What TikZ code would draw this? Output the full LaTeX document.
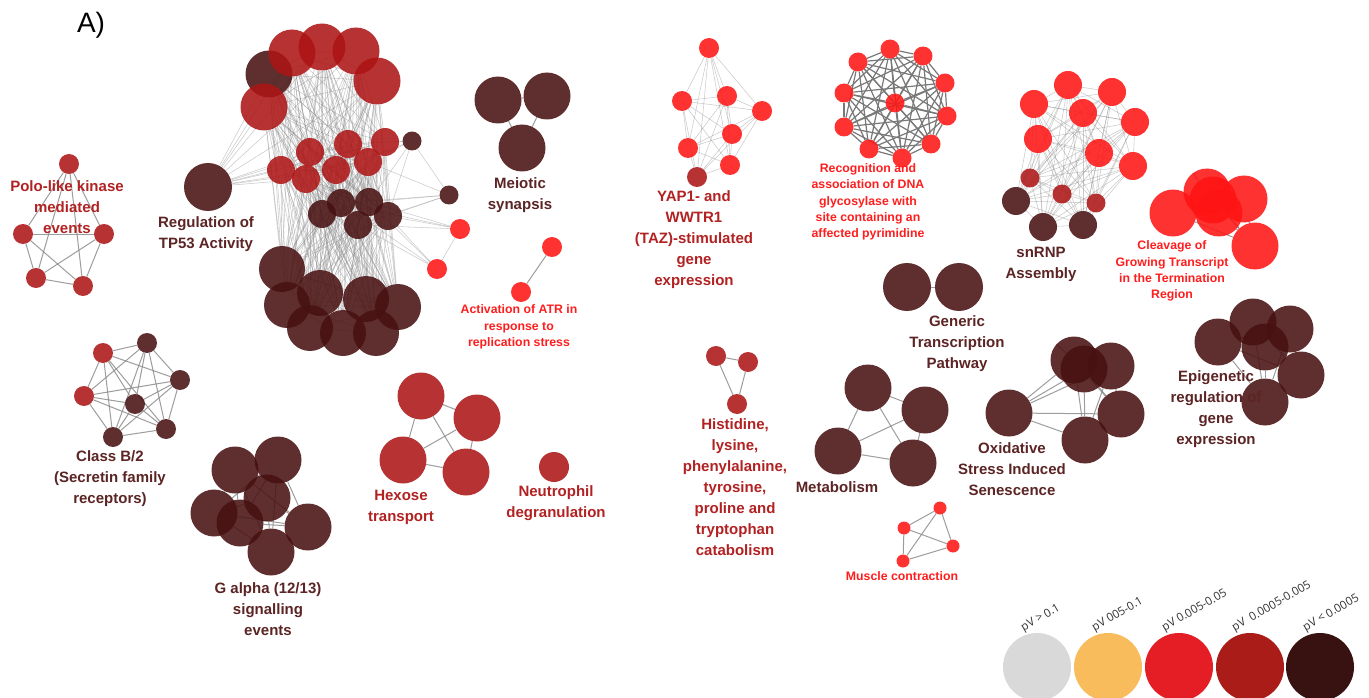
\documentclass[tikz,border=0pt]{standalone}
\usepackage{fontspec}
\newfontfamily\lblfont{Liberation Sans}
\newfontfamily\legfont{Open Sans}
\usepackage{tikz}
\usetikzlibrary{backgrounds}
\definecolor{ndark}{RGB}{72,17,17}
\definecolor{nmid}{RGB}{173,20,20}
\definecolor{nbright}{RGB}{255,20,20}
\definecolor{tdark}{RGB}{92,36,36}
\definecolor{tmid}{RGB}{178,34,34}
\definecolor{tbright}{RGB}{255,30,30}
\definecolor{egray}{RGB}{140,140,140}
\definecolor{egraydk}{RGB}{120,120,120}
\definecolor{legA}{RGB}{217,217,217}
\definecolor{legB}{RGB}{248,188,92}
\definecolor{legC}{RGB}{228,30,36}
\definecolor{legD}{RGB}{170,28,24}
\definecolor{legE}{RGB}{56,18,16}
\newcommand\meshall[3][ln]{\foreach \i in {1,...,#3}{\foreach \j in {\i,...,#3}{\ifnum\i<\j \draw[#1] (#2\i) -- (#2\j);\fi}}}

\begin{document}
\begin{tikzpicture}[x=1pt,y=-1pt,
  nd/.style={circle,inner sep=0pt,draw=none,fill opacity=0.87},
  dk/.style={nd,fill=ndark,minimum size=#1},
  dk/.default=47pt,
  md/.style={nd,fill=nmid,minimum size=#1},
  md/.default=20pt,
  br/.style={nd,fill=nbright,minimum size=#1},
  br/.default=20pt,
  ln/.style={draw=egray,line width=1pt,opacity=0.85},
  lnt/.style={draw=egray,line width=0.55pt,opacity=0.45},
  lnd/.style={draw=egraydk,line width=1.2pt},
  lbl/.style={font=\lblfont\bfseries\fontsize{15}{21}\selectfont,align=center,inner sep=0pt},
  sml/.style={font=\lblfont\bfseries\fontsize{12.3}{16.3}\selectfont,align=center,inner sep=0pt},
  lgd/.style={circle,inner sep=0pt,minimum size=68pt},
  leg/.style={font=\legfont\fontsize{11.5}{13}\selectfont,text=black!80,inner sep=0pt,rotate=30,anchor=south west}
]
\useasboundingbox (0,0) rectangle (1369,698);
\clip (0,0) rectangle (1369,698);

\node[font=\lblfont\fontsize{28}{30}\selectfont,inner sep=0pt] (tag) at (91,25) {A)};

\node[md] (p1) at (69,164) {};
\node[md] (p2) at (23,234) {};
\node[md] (p3) at (104,234) {};
\node[md] (p4) at (36,278) {};
\node[md] (p5) at (83,286) {};

\node[dk=48pt] (tp) at (208,187) {};
\node[dk] (t1) at (269,74) {};
\node[md=47pt] (t2) at (292,53) {};
\node[md=47pt] (t3) at (322,47) {};
\node[md=47pt] (t4) at (356,51) {};
\node[md=47pt] (t5) at (377,81) {};
\node[md=47pt] (t6) at (264,107) {};
\node[md=28pt] (t7) at (310,152) {};
\node[md=28pt] (t8) at (348,144) {};
\node[md=28pt] (t9) at (385,142) {};
\node[md=28pt] (t10) at (281,170) {};
\node[md=28pt] (t11) at (306,179) {};
\node[md=28pt] (t12) at (336,170) {};
\node[md=28pt] (t13) at (368,162) {};
\node[dk=28pt] (t14) at (322,214) {};
\node[dk=28pt] (t15) at (341,203) {};
\node[dk=28pt] (t16) at (369,202) {};
\node[dk=28pt] (t17) at (388,216) {};
\node[dk=28pt] (t18) at (358,225) {};
\node[dk=46pt] (t19) at (282,269) {};
\node[dk=46pt] (t20) at (287,305) {};
\node[dk=46pt] (t21) at (320,293) {};
\node[dk=46pt] (t22) at (366,299) {};
\node[dk=46pt] (t23) at (398,307) {};
\node[dk=46pt] (t24) at (310,328) {};
\node[dk=46pt] (t25) at (343,333) {};
\node[dk=46pt] (t26) at (376,333) {};
\node[dk=19pt] (t27) at (412,141) {};
\node[dk=19pt] (t28) at (449,195) {};
\node[br] (t29) at (460,229) {};
\node[br] (t30) at (437,269) {};

\node[dk] (e1) at (498,100) {};
\node[dk] (e2) at (547,96) {};
\node[dk] (e3) at (522,148) {};

\node[br] (a1) at (552,247) {};
\node[br] (a2) at (521,292) {};

\node[br] (y1) at (709,48) {};
\node[br] (y2) at (682,101) {};
\node[br] (y3) at (727,96) {};
\node[br] (y4) at (762,111) {};
\node[br] (y5) at (732,134) {};
\node[br] (y6) at (688,148) {};
\node[br] (y7) at (730,165) {};
\node[md] (y8) at (697,177) {};

\node[br=19pt] (g1) at (890,49) {};
\node[br=19pt] (g2) at (923,56) {};
\node[br=19pt] (g3) at (945,83) {};
\node[br=19pt] (g4) at (947,116) {};
\node[br=19pt] (g5) at (931,144) {};
\node[br=19pt] (g6) at (902,158) {};
\node[br=19pt] (g7) at (869,149) {};
\node[br=19pt] (g8) at (844,127) {};
\node[br=19pt] (g9) at (844,93) {};
\node[br=19pt] (g10) at (858,62) {};
\node[br=19pt] (g11) at (895,103) {};

\node[br=28pt] (n1) at (1034,104) {};
\node[br=28pt] (n2) at (1068,85) {};
\node[br=28pt] (n3) at (1112,92) {};
\node[br=28pt] (n4) at (1135,122) {};
\node[br=28pt] (n5) at (1133,166) {};
\node[br=28pt] (n6) at (1099,153) {};
\node[br=28pt] (n7) at (1083,113) {};
\node[br=28pt] (n8) at (1038,139) {};
\node[md=19pt] (n9) at (1030,178) {};
\node[md=19pt] (n10) at (1062,194) {};
\node[md=19pt] (n11) at (1096,203) {};
\node[dk=28pt] (n12) at (1016,201) {};
\node[dk=28pt] (n13) at (1043,227) {};
\node[dk=28pt] (n14) at (1083,225) {};

\node[br=47pt] (c1) at (1173,213) {};
\node[br=47pt] (c2) at (1207,192) {};
\node[br=47pt] (c3) at (1244,199) {};
\node[br=47pt] (c4) at (1213,200) {};
\node[br=47pt] (c5) at (1219,213) {};
\node[br=47pt] (c6) at (1255,246) {};

\node[dk=48pt] (q1) at (907,287) {};
\node[dk=48pt] (q2) at (959,287) {};

\node[dk] (v1) at (1218,342) {};
\node[dk] (v2) at (1253,322) {};
\node[dk] (v3) at (1290,329) {};
\node[dk] (v4) at (1265,347) {};
\node[dk] (v5) at (1301,375) {};
\node[dk] (v6) at (1265,402) {};

\node[dk] (o1) at (1009,413) {};
\node[dk] (o2) at (1074,360) {};
\node[dk] (o3) at (1084,369) {};
\node[dk] (o4) at (1111,366) {};
\node[dk] (o5) at (1121,414) {};
\node[dk] (o6) at (1085,440) {};

\node[dk] (k1) at (868,388) {};
\node[dk] (k2) at (925,410) {};
\node[dk] (k3) at (838,451) {};
\node[dk] (k4) at (913,463) {};

\node[br=13pt] (u1) at (940,508) {};
\node[br=13pt] (u2) at (904,528) {};
\node[br=13pt] (u3) at (953,546) {};
\node[br=13pt] (u4) at (903,561) {};

\node[md] (h1) at (716,356) {};
\node[md] (h2) at (748,362) {};
\node[md] (h3) at (737,404) {};

\node[md] (w1) at (103,353) {};
\node[dk=20pt] (w2) at (147,343) {};
\node[dk=20pt] (w3) at (180,380) {};
\node[dk=20pt] (w4) at (135,404) {};
\node[md] (w5) at (84,396) {};
\node[dk=20pt] (w6) at (166,429) {};
\node[dk=20pt] (w7) at (113,437) {};

\node[dk] (f1) at (235,470) {};
\node[dk] (f2) at (278,460) {};
\node[dk] (f3) at (267,498) {};
\node[dk] (f4) at (214,513) {};
\node[dk] (f5) at (240,523) {};
\node[dk] (f6) at (308,527) {};
\node[dk] (f7) at (271,552) {};

\node[md=47pt] (x1) at (421,396) {};
\node[md=47pt] (x2) at (477,418) {};
\node[md=47pt] (x3) at (403,460) {};
\node[md=47pt] (x4) at (466,472) {};

\node[md=30pt] (z1) at (554,467) {};

\begin{scope}[on background layer]
\fill[white] (0,0) rectangle (1369,698);
\meshall{p}{5}
\meshall[lnt]{t}{26}
\foreach \j in {1,...,13} \draw[lnt] (tp) -- (t\j);
\foreach \a/\b in {27/8,27/9,27/12,27/13,27/16,27/17,27/28,28/13,28/15,28/16,28/17,28/18,
  29/15,29/16,29/17,29/18,29/30,30/15,30/16,30/17,30/18} \draw[lnt] (t\a) -- (t\b);
\meshall{e}{3}
\draw[ln] (a1) -- (a2);
\meshall[lnt]{y}{8}
\meshall[lnd]{g}{11}
\meshall[lnt]{n}{14}
\meshall{c}{6}
\draw[ln] (q1) -- (q2);
\meshall{v}{6}
\meshall{o}{6}
\meshall{k}{4}
\meshall{u}{4}
\meshall{h}{3}
\meshall{w}{7}
\meshall{f}{7}
\meshall{x}{4}
\end{scope}

\node[lbl,tmid] (lpolo) at (67,207) {Polo-like kinase\\mediated\\events};
\node[lbl,tdark] (ltp) at (206,234) {Regulation of\\TP53 Activity};
\node[lbl,tdark] (lmei) at (520,195) {Meiotic\\synapsis};
\node[sml,tbright] (latr) at (519,327) {Activation of ATR in\\response to\\replication stress};
\node[lbl,tmid] (lyap) at (694,240) {YAP1- and\\WWTR1\\(TAZ)-stimulated\\gene\\expression};
\node[sml,tbright] (lrec) at (868,202) {Recognition and\\association of DNA\\glycosylase with\\site containing an\\affected pyrimidine};
\node[lbl,tdark] (lsnr) at (1041,264) {snRNP\\Assembly};
\node[sml,tbright] (lclv) at (1172,271) {Cleavage of\\Growing Transcript\\in the Termination\\Region};
\node[lbl,tdark] (lgen) at (957,344) {Generic\\Transcription\\Pathway};
\node[lbl,tdark] (lepi) at (1216,409) {Epigenetic\\regulation of\\gene\\expression};
\node[lbl,tdark] (loxi) at (1012,469) {Oxidative\\Stress Induced\\Senescence};
\node[lbl,tdark] (lmet) at (837,487) {Metabolism};
\node[sml,tbright] (lmus) at (902,576) {Muscle contraction};
\node[lbl,tmid] (lhis) at (735,487) {Histidine,\\lysine,\\phenylalanine,\\tyrosine,\\proline and\\tryptophan\\catabolism};
\node[lbl,tdark] (lcls) at (110,479) {Class B/2\\(Secretin family\\receptors)};
\node[lbl,tdark] (lgal) at (268,609) {G alpha (12/13)\\signalling\\events};
\node[lbl,tmid] (lhex) at (401,507) {Hexose\\transport};
\node[lbl,tmid] (lneu) at (556,503) {Neutrophil\\degranulation};

\node[lgd,fill=legA] (l1) at (1037,667) {};
\node[lgd,fill=legB] (l2) at (1108,667) {};
\node[lgd,fill=legC] (l3) at (1179,667) {};
\node[lgd,fill=legD] (l4) at (1250,667) {};
\node[lgd,fill=legE] (l5) at (1320,667) {};
\node[leg] (lt1) at (1025,634) {pV > 0.1};
\node[leg] (lt2) at (1096,634) {pV 005-0.1};
\node[leg] (lt3) at (1166,634) {pV 0.005-0.05};
\node[leg] (lt4) at (1236,634) {pV\ \ 0.0005-0.005};
\node[leg] (lt5) at (1307,634) {pV < 0.0005};
\end{tikzpicture}
\end{document}
